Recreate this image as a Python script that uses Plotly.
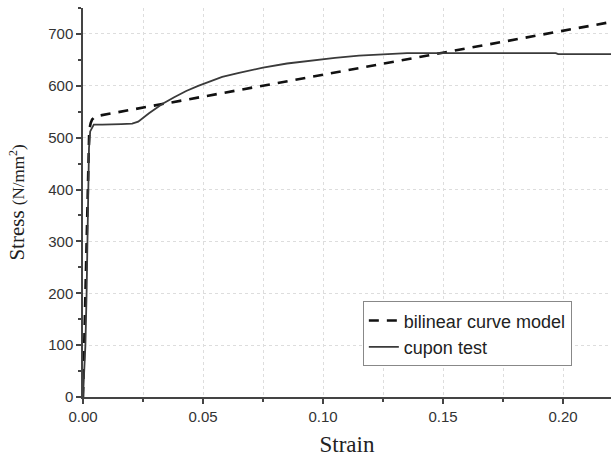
import plotly.graph_objects as go

# Data
cupon_strain = [0, 0.0005, 0.001, 0.0015, 0.002, 0.0025, 0.003, 0.0045, 0.008, 0.012, 0.016,
                0.0205, 0.023, 0.0275, 0.033, 0.038, 0.043, 0.048, 0.053, 0.058, 0.065,
                0.075, 0.085, 0.095, 0.105, 0.115, 0.125, 0.135, 0.15, 0.17, 0.19, 0.197,
                0.198, 0.22]
cupon_stress = [0, 40, 100, 200, 330, 480, 512, 525, 525, 525, 526,
                527, 531, 547, 565, 578, 590, 600, 609, 617, 625,
                635, 643, 649, 654, 658, 661, 663, 663, 663, 663, 663,
                661, 661]

bilinear_strain = [0, 0.0026, 0.0032, 0.0038, 0.005, 0.22]
bilinear_stress = [0, 515, 528, 535, 541, 723]

x_ticks = [0.0, 0.05, 0.10, 0.15, 0.20]
x_labels = ["0.00", "0.05", "0.10", "0.15", "0.20"]
y_ticks = [0, 100, 200, 300, 400, 500, 600, 700]

fig = go.Figure()
fig.add_trace(go.Scatter(
    x=bilinear_strain, y=bilinear_stress, mode="lines",
    name="bilinear curve model",
    line=dict(color="#111111", width=2.6, dash="10px,8px"),
))
fig.add_trace(go.Scatter(
    x=cupon_strain, y=cupon_stress, mode="lines",
    name="cupon test",
    line=dict(color="#3a3a3a", width=1.8),
))

axis_font = dict(family="Liberation Sans, Arial, sans-serif", size=15, color="#333333")

fig.update_layout(
    width=611, height=458,
    margin=dict(l=83, r=0, t=8, b=61),
    paper_bgcolor="white", plot_bgcolor="white",
    showlegend=True,
    legend=dict(
        x=0.53, y=0.246, xanchor="left", yanchor="top",
        bgcolor="white", bordercolor="#888888", borderwidth=1,
        font=dict(family="Liberation Sans, Arial, sans-serif", size=18, color="#222222"),
        tracegroupgap=2,
    ),
    xaxis=dict(
        range=[0, 0.22], tickvals=x_ticks, ticktext=x_labels,
        ticks="outside", ticklen=5, tickwidth=1.5, tickcolor="#444444",
        showline=True, linecolor="#444444", linewidth=1.5,
        showgrid=True, gridcolor="#dddddd", griddash="dot", gridwidth=1,
        zeroline=False,
        minor=dict(dtick=0.025, tick0=0, ticks="outside", ticklen=3, tickcolor="#444444",
                   showgrid=True, gridcolor="#dddddd", griddash="dot"),
        tickfont=axis_font,
        title=dict(text="Strain", standoff=12,
                   font=dict(family="Liberation Serif, Times New Roman, serif", size=23, color="#222222")),
    ),
    yaxis=dict(
        range=[0, 750], tickvals=y_ticks,
        ticks="outside", ticklen=5, tickwidth=1.5, tickcolor="#444444",
        showline=True, linecolor="#444444", linewidth=1.5,
        showgrid=True, gridcolor="#dddddd", griddash="dot", gridwidth=1,
        zeroline=False,
        minor=dict(dtick=50, tick0=0, ticks="outside", ticklen=3, tickcolor="#444444", showgrid=False),
        tickfont=axis_font,
        title=dict(text="Stress <span style='font-size:17px'>(N/mm<sup>2</sup>)</span>", standoff=18,
                   font=dict(family="Liberation Serif, Times New Roman, serif", size=21, color="#222222")),
    ),
)

fig.write_html("out.html")
